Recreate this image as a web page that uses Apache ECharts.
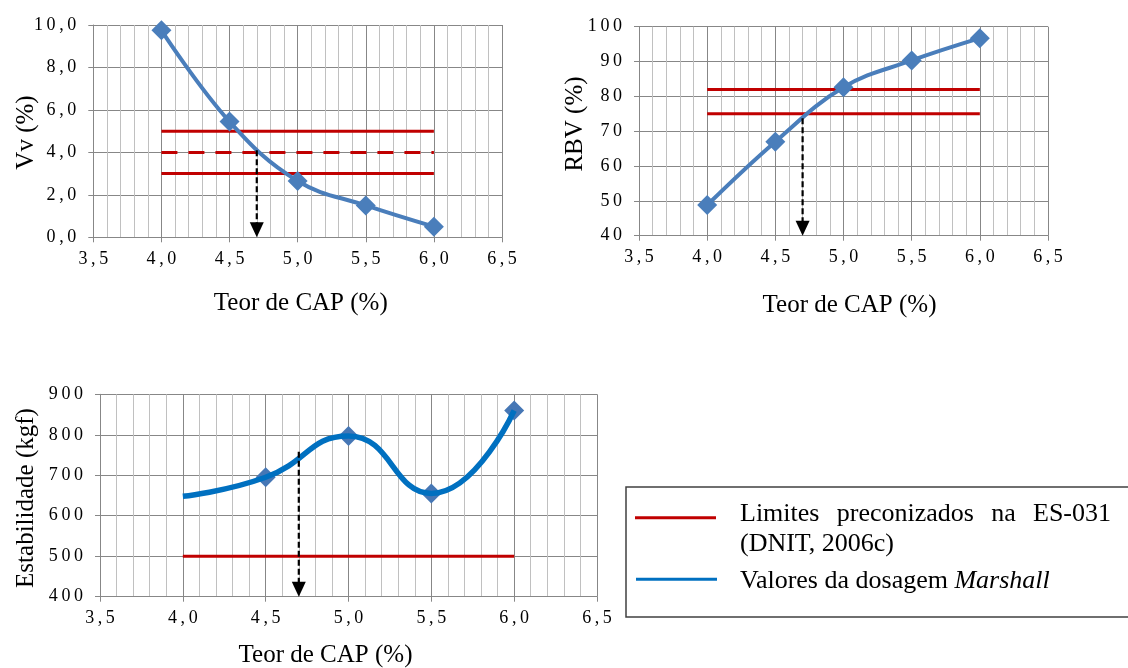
<!DOCTYPE html>
<html><head><meta charset="utf-8">
<script src="https://cdn.jsdelivr.net/npm/echarts@6/dist/echarts.min.js"></script>
<style>html,body{margin:0;padding:0;background:#fff}#c{width:1128px;height:668px}</style>
</head><body><div id="c"></div>
<script>
// ---------- data ----------
const teorCAP = [4.0, 4.5, 5.0, 5.5, 6.0];
const vvValues = [9.75, 5.45, 2.65, 1.5, 0.5];
const rbvValues = [48.8, 67.0, 82.6, 90.3, 96.7];
const estabValues = [648, 695, 797, 655, 860];
const estabMarkerStart = 1;            // first point drawn without a marker
const vvLimits = [5.0, 3.0];
const vvTarget = [4.0];
const rbvLimits = [82, 75];
const estabLimits = [500];
const limitRange = [4.0, 6.0];
const arrowX = 4.7;
const arrowTops = [4.1, 73.7, 758];
const xRange = [3.5, 6.5, 0.5];
const yRanges = [[0, 10, 2, 1], [40, 100, 10, 0], [400, 900, 100, 0]];
const yNames = ['Vv (%)', 'RBV (%)', 'Estabilidade (kgf)'];
const xName = 'Teor de CAP (%)';
const legendLine1 = 'Limites preconizados na ES-031';
const legendLine2 = '(DNIT, 2006c)';
const legendLine3a = 'Valores da dosagem ';
const legendLine3b = 'Marshall';

// ---------- style ----------
const FONT = "'Liberation Serif','Times New Roman',serif";
const RED = '#C00000', BLUE = '#4A7EBB', BLUE2 = '#0070C0', MARK2 = '#4677B5';
const MAJ = '#878787', MIN = '#C0C0C0';
const grids = [
  {left: 93.3, top: 25, width: 408.7, height: 212.3},
  {left: 639, top: 26.7, width: 409, height: 209},
  {left: 100, top: 394.3, width: 497, height: 202.4}
];
function fmt(dec) { return v => Number(v).toFixed(dec).replace('.', ',').split('').join('\u2009'); }

const xAxes = grids.map((g, i) => ({
  type: 'value', gridIndex: i, min: xRange[0], max: xRange[1], interval: xRange[2],
  axisLine: {show: true, onZero: false, lineStyle: {color: MAJ, width: 1}},
  axisTick: {show: true, length: 5, lineStyle: {color: MAJ}},
  minorTick: {show: false, splitNumber: 5},
  minorSplitLine: {show: true, lineStyle: {color: MIN, width: 1}},
  splitLine: {show: true, lineStyle: {color: MAJ, width: 1}},
  axisLabel: {formatter: fmt(1), fontFamily: FONT, fontSize: 18, color: '#000', margin: 13}
}));
const yAxes = yRanges.map((r, i) => ({
  type: 'value', gridIndex: i, min: r[0], max: r[1], interval: r[2],
  axisLine: {show: true, lineStyle: {color: MAJ, width: 1}},
  axisTick: {show: true, length: 5, lineStyle: {color: MAJ}},
  splitLine: {show: true, lineStyle: {color: MAJ, width: 1}},
  axisLabel: {formatter: fmt(r[3]), fontFamily: FONT, fontSize: 18, color: '#000', margin: 17}
}));

function limitSeries(idx, val, dashed) {
  return {type: 'line', xAxisIndex: idx, yAxisIndex: idx, silent: true, symbol: 'none', z: 2,
    data: [[limitRange[0], val], [limitRange[1], val]],
    lineStyle: {color: RED, width: 3, type: dashed ? [16, 11] : 'solid'}};
}
function arrowSeries(idx) {
  return {type: 'custom', xAxisIndex: idx, yAxisIndex: idx, z: 20, silent: true,
    data: [[arrowX, arrowTops[idx], yRanges[idx][0]]],
    renderItem(params, api) {
      const p1 = api.coord([api.value(0), api.value(1)]);
      const p2 = api.coord([api.value(0), api.value(2)]);
      const h = 15, w = 14;
      return {type: 'group', children: [
        {type: 'line', shape: {x1: p1[0], y1: p1[1], x2: p2[0], y2: p2[1] - h + 1},
          style: {stroke: '#000', lineWidth: 2.2, lineDash: [6, 3]}},
        {type: 'polygon', shape: {points: [[p2[0] - w / 2, p2[1] - h], [p2[0] + w / 2, p2[1] - h], [p2[0], p2[1]]]},
          style: {fill: '#000'}}
      ]};
    }};
}
function pairs(xs, ys) { return xs.map((x, i) => [x, ys[i]]); }

const series = [];
vvLimits.forEach(v => series.push(limitSeries(0, v, false)));
vvTarget.forEach(v => series.push(limitSeries(0, v, true)));
rbvLimits.forEach(v => series.push(limitSeries(1, v, false)));
estabLimits.forEach(v => series.push(limitSeries(2, v, false)));
series.push({type: 'line', xAxisIndex: 0, yAxisIndex: 0, smooth: 0.4, z: 5,
  data: pairs(teorCAP, vvValues), symbol: 'diamond', symbolSize: 20, showSymbol: true,
  itemStyle: {color: BLUE, opacity: 1}, lineStyle: {color: BLUE, width: 4}});
series.push({type: 'line', xAxisIndex: 1, yAxisIndex: 1, smooth: 0.4, z: 5,
  data: pairs(teorCAP, rbvValues), symbol: 'diamond', symbolSize: 20,
  itemStyle: {color: BLUE, opacity: 1}, lineStyle: {color: BLUE, width: 4}});
series.push({type: 'scatter', xAxisIndex: 2, yAxisIndex: 2, z: 4,
  data: pairs(teorCAP, estabValues).slice(estabMarkerStart), symbol: 'diamond', symbolSize: 20,
  itemStyle: {color: MARK2, opacity: 1}});
series.push({type: 'line', xAxisIndex: 2, yAxisIndex: 2, smooth: 0.5, z: 5,
  data: pairs(teorCAP, estabValues), symbol: 'none',
  lineStyle: {color: BLUE2, width: 5.5}});
[0, 1, 2].forEach(i => series.push(arrowSeries(i)));

// ---------- titles & legend (graphic) ----------
const graphic = [];
function txt(x, y, text, size, rot, extra) {
  graphic.push({type: 'text', x: x, y: y, rotation: rot || 0, z: 50,
    style: Object.assign({text: text, fontFamily: FONT, fontSize: size, fill: '#000',
      align: 'center', verticalAlign: 'middle'}, extra || {})});
}
txt(300.8, 303.5, xName, 25);
txt(849.5, 305, xName, 25);
txt(325.5, 655, xName, 25);
txt(26, 132.5, yNames[0], 25, Math.PI / 2);
txt(575, 124, yNames[1], 25, Math.PI / 2);
txt(26, 498, yNames[2], 25, Math.PI / 2);

// legend box
graphic.push({type: 'rect', z: 40, shape: {x: 626, y: 487, width: 520, height: 130},
  style: {fill: '#fff', stroke: '#404040', lineWidth: 1.5}});
graphic.push({type: 'line', z: 41, shape: {x1: 635, y1: 517.7, x2: 716, y2: 517.7}, style: {stroke: RED, lineWidth: 3}});
graphic.push({type: 'line', z: 41, shape: {x1: 636, y1: 579.3, x2: 717, y2: 579.3}, style: {stroke: BLUE2, lineWidth: 3}});
// justified first line
(function () {
  const ctx = document.createElement('canvas').getContext('2d');
  ctx.font = "26px 'Liberation Serif'";
  const words = legendLine1.split(' ');
  const widths = words.map(w => ctx.measureText(w).width);
  const x0 = 740, x1 = 1111;
  const gap = (x1 - x0 - widths.reduce((a, b) => a + b, 0)) / (words.length - 1);
  let x = x0;
  words.forEach((w, i) => {
    txt(x, 514, w, 26, 0, {align: 'left'});
    x += widths[i] + gap;
  });
})();
txt(740, 544.5, legendLine2, 26, 0, {align: 'left'});
graphic.push({type: 'text', x: 740, y: 581.5, z: 50, style: {
  text: '{a|' + legendLine3a + '}{b|' + legendLine3b + '}', align: 'left', verticalAlign: 'middle',
  rich: {a: {fontFamily: FONT, fontSize: 26, fill: '#000'},
         b: {fontFamily: FONT, fontSize: 26, fontStyle: 'italic', fill: '#000'}}}});

const chart = echarts.init(document.getElementById('c'), null, {renderer: 'canvas'});
chart.setOption({
  animation: false,
  backgroundColor: '#fff',
  grid: grids.map(g => Object.assign({containLabel: false}, g)),
  xAxis: xAxes, yAxis: yAxes, series: series, graphic: graphic
});
</script></body></html>
